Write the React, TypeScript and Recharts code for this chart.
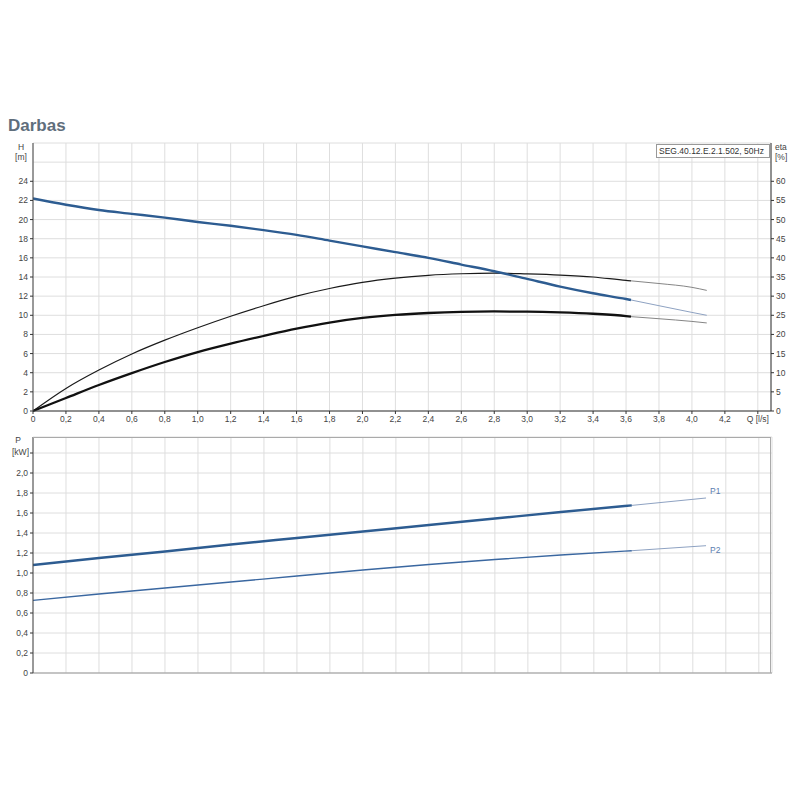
import { CartesianGrid, ComposedChart, Line, XAxis, YAxis } from "recharts";

// flow [l/s] for the solid part of the curves and for the thin continuation
const flowMain = [0, 0.2, 0.4, 0.6, 0.8, 1.0, 1.2, 1.4, 1.6, 1.8, 2.0, 2.2, 2.4, 2.6, 2.8, 3.0, 3.2, 3.4, 3.6, 3.63];
const flowTail = [3.63, 3.8, 4.0, 4.09];

// head H [m]
const headMain = [22.2, 21.55, 21.0, 20.6, 20.2, 19.75, 19.35, 18.9, 18.4, 17.8, 17.2, 16.6, 16.0, 15.3, 14.6, 13.8, 13.0, 12.3, 11.7, 11.6];
const headTail = [11.6, 11.0, 10.3, 10.0];

// efficiency [%], pump (upper thin) and total (lower thick)
const etaPumpMain = [0, 5.9, 10.7, 14.9, 18.5, 21.75, 24.75, 27.5, 30.0, 32.0, 33.6, 34.7, 35.45, 35.85, 36.0, 35.8, 35.5, 35.0, 34.1, 34.0];
const etaPumpTail = [34.0, 33.3, 32.3, 31.5];
const etaTotalMain = [0, 3.4, 6.8, 9.9, 12.8, 15.4, 17.6, 19.6, 21.5, 23.1, 24.3, 25.1, 25.6, 25.9, 26.0, 25.95, 25.75, 25.4, 24.8, 24.65];
const etaTotalTail = [24.65, 24.1, 23.4, 23.0];

// power [kW]
const powerFlow = [0, 0.4, 0.8, 1.2, 1.6, 2.0, 2.4, 2.8, 3.2, 3.63];
const powerTailFlow = [3.63, 4.08];
const p1Main = [1.08, 1.15, 1.215, 1.285, 1.35, 1.415, 1.48, 1.545, 1.61, 1.676];
const p1Tail = [1.676, 1.75];
const p2Main = [0.726, 0.79, 0.85, 0.91, 0.97, 1.03, 1.085, 1.135, 1.18, 1.223];
const p2Tail = [1.223, 1.273];

const qTicks = [0, 0.2, 0.4, 0.6, 0.8, 1.0, 1.2, 1.4, 1.6, 1.8, 2.0, 2.2, 2.4, 2.6, 2.8, 3.0, 3.2, 3.4, 3.6, 3.8, 4.0, 4.2, 4.4];
const hTicks = [0, 2, 4, 6, 8, 10, 12, 14, 16, 18, 20, 22, 24, 26, 28];
const etaTicks = [0, 5, 10, 15, 20, 25, 30, 35, 40, 45, 50, 55, 60, 65, 70];
const pTicks = [0, 0.2, 0.4, 0.6, 0.8, 1.0, 1.2, 1.4, 1.6, 1.8, 2.0, 2.2];

const rows = (q: number[], v: number[]) => q.map((x, i) => ({ q: x, v: v[i] }));

const FONT = "'Liberation Sans', Arial, sans-serif";
const TXT = "#444";
const FS = 8.5;
const BLUE = "#2d5c91";
const GRID = "#dedede";
const PLOT_L = 33;
const PLOT_R = 771;

const fmt = (v: number) => (v === 0 ? "0" : v.toFixed(1).replace(".", ","));

function HeadTick(props: any) {
  const { y, payload } = props;
  const v = payload.value;
  if (v === 28) return <g />;
  if (v === 26)
    return (
      <g fontFamily={FONT} fontSize={FS} fill={TXT} textAnchor="middle">
        <text x={21} y={y - 12}>H</text>
        <text x={21} y={y - 2}>[m]</text>
      </g>
    );
  return (
    <g>
      <line x1={PLOT_L - 3} x2={PLOT_L} y1={y} y2={y} stroke="#333" />
      <text x={PLOT_L - 5} y={y + 3} textAnchor="end" fontFamily={FONT} fontSize={FS} fill={TXT}>
        {v}
      </text>
    </g>
  );
}

function EtaTick(props: any) {
  const { y, payload } = props;
  const v = payload.value;
  if (v === 70) return <g />;
  if (v === 65)
    return (
      <g fontFamily={FONT} fontSize={FS} fill={TXT} textAnchor="start">
        <text x={775} y={y - 12}>eta</text>
        <text x={775} y={y - 2}>[%]</text>
      </g>
    );
  return (
    <g>
      <line x1={PLOT_R} x2={PLOT_R + 3} y1={y} y2={y} stroke="#333" />
      <text x={PLOT_R + 5} y={y + 3} textAnchor="start" fontFamily={FONT} fontSize={FS} fill={TXT}>
        {v}
      </text>
    </g>
  );
}

function PowerTick(props: any) {
  const { y, payload } = props;
  const v = payload.value;
  if (v === 2.2)
    return (
      <g fontFamily={FONT} fontSize={FS} fill={TXT}>
        <line x1={PLOT_L - 3} x2={PLOT_L} y1={y} y2={y} stroke="#333" />
        <text x={18} y={y - 10} textAnchor="middle">P</text>
        <text x={PLOT_L - 4} y={y + 2} textAnchor="end">[kW]</text>
      </g>
    );
  return (
    <g>
      <line x1={PLOT_L - 3} x2={PLOT_L} y1={y} y2={y} stroke="#333" />
      <text x={PLOT_L - 5} y={y + 3} textAnchor="end" fontFamily={FONT} fontSize={FS} fill={TXT}>
        {fmt(v)}
      </text>
    </g>
  );
}

const NoTick = () => <g />;

function PerformanceChart() {
  return (
    <ComposedChart width={800} height={430} margin={{ top: 143, right: 0, bottom: 0, left: 0 }}>
      <CartesianGrid yAxisId="h" stroke={GRID} />
      <XAxis
        dataKey="q"
        type="number"
        domain={[0, 4.48]}
        ticks={qTicks}
        interval={0}
        allowDataOverflow
        height={19}
        axisLine={{ stroke: "#333" }}
        tickLine={{ stroke: "#333" }}
        tickSize={3}
        tick={{ fontSize: FS, fill: TXT, fontFamily: FONT }}
        tickFormatter={(v: number) => (v === 4.4 ? "Q [l/s]" : fmt(v))}
      />
      <YAxis
        yAxisId="h"
        type="number"
        domain={[0, 28]}
        ticks={hTicks}
        interval={0}
        width={PLOT_L}
        axisLine={{ stroke: "#444" }}
        tickLine={false}
        tick={HeadTick}
      />
      <YAxis
        yAxisId="eta"
        orientation="right"
        type="number"
        domain={[0, 70]}
        ticks={etaTicks}
        interval={0}
        width={800 - PLOT_R}
        axisLine={{ stroke: "#333" }}
        tickLine={false}
        tick={EtaTick}
      />
      <Line yAxisId="eta" data={rows(flowTail, etaPumpTail)} dataKey="v" type="monotone" stroke="#777" strokeWidth={0.9} dot={false} isAnimationActive={false} />
      <Line yAxisId="eta" data={rows(flowTail, etaTotalTail)} dataKey="v" type="monotone" stroke="#777" strokeWidth={0.9} dot={false} isAnimationActive={false} />
      <Line yAxisId="h" data={rows(flowTail, headTail)} dataKey="v" type="monotone" stroke="#8ea2c2" strokeWidth={1} dot={false} isAnimationActive={false} />
      <Line yAxisId="eta" data={rows(flowMain, etaPumpMain)} dataKey="v" type="monotone" stroke="#1a1a1a" strokeWidth={1.2} dot={false} isAnimationActive={false} />
      <Line yAxisId="eta" data={rows(flowMain, etaTotalMain)} dataKey="v" type="monotone" stroke="#111" strokeWidth={2.3} dot={false} isAnimationActive={false} />
      <Line yAxisId="h" data={rows(flowMain, headMain)} dataKey="v" type="monotone" stroke={BLUE} strokeWidth={2.4} dot={false} isAnimationActive={false} />
    </ComposedChart>
  );
}

function PowerChart() {
  return (
    <ComposedChart width={800} height={690} margin={{ top: 437, right: 800 - PLOT_R - 1, bottom: 16, left: 0 }}>
      <CartesianGrid stroke={GRID} />
      <XAxis
        dataKey="q"
        type="number"
        domain={[0, 4.48]}
        ticks={qTicks}
        interval={0}
        allowDataOverflow
        height={1}
        axisLine={{ stroke: "#999" }}
        tickLine={false}
        tick={NoTick}
      />
      <YAxis
        type="number"
        domain={[0, 2.36]}
        ticks={pTicks}
        interval={0}
        width={PLOT_L}
        axisLine={{ stroke: "#444" }}
        tickLine={false}
        tick={PowerTick}
      />
      <Line data={rows(powerTailFlow, p1Tail)} dataKey="v" type="linear" stroke="#8ea2c2" strokeWidth={1} dot={false} isAnimationActive={false} />
      <Line data={rows(powerTailFlow, p2Tail)} dataKey="v" type="linear" stroke="#8ea2c2" strokeWidth={1} dot={false} isAnimationActive={false} />
      <Line data={rows(powerFlow, p1Main)} dataKey="v" type="monotone" stroke={BLUE} strokeWidth={2.4} dot={false} isAnimationActive={false} />
      <Line data={rows(powerFlow, p2Main)} dataKey="v" type="monotone" stroke="#3a67a0" strokeWidth={1.4} dot={false} isAnimationActive={false} />
    </ComposedChart>
  );
}

export default function App() {
  return (
    <div style={{ position: "absolute", left: 0, top: 0, width: 800, height: 800, background: "#fff", fontFamily: FONT }}>
      <div
        style={{
          position: "absolute",
          left: 8,
          top: 117,
          fontSize: 17,
          lineHeight: "17px",
          fontWeight: "bold",
          color: "#5f6e7c",
        }}
      >
        Darbas
      </div>
      <div style={{ position: "absolute", left: 0, top: 0 }}>
        <PerformanceChart />
      </div>
      <div style={{ position: "absolute", left: 0, top: 0 }}>
        <PowerChart />
      </div>
      <div
        style={{
          position: "absolute",
          left: PLOT_L,
          top: 437,
          width: PLOT_R - PLOT_L,
          height: 236,
          borderTop: "1px solid #aaa",
          borderRight: "1px solid #aaa",
          boxSizing: "border-box",
          pointerEvents: "none",
        }}
      />
      <div
        style={{
          position: "absolute",
          left: 656,
          top: 144,
          width: 114,
          height: 14,
          boxSizing: "border-box",
          border: "1px solid #999",
          background: "#fff",
          fontSize: FS,
          lineHeight: "12px",
          paddingLeft: 2,
          color: "#333",
          whiteSpace: "nowrap",
        }}
      >
        SEG.40.12.E.2.1.502, 50Hz
      </div>
      <div style={{ position: "absolute", left: 710, top: 486, fontSize: FS, color: "#5b7db0" }}>P1</div>
      <div style={{ position: "absolute", left: 710, top: 545, fontSize: FS, color: "#5b7db0" }}>P2</div>
    </div>
  );
}
